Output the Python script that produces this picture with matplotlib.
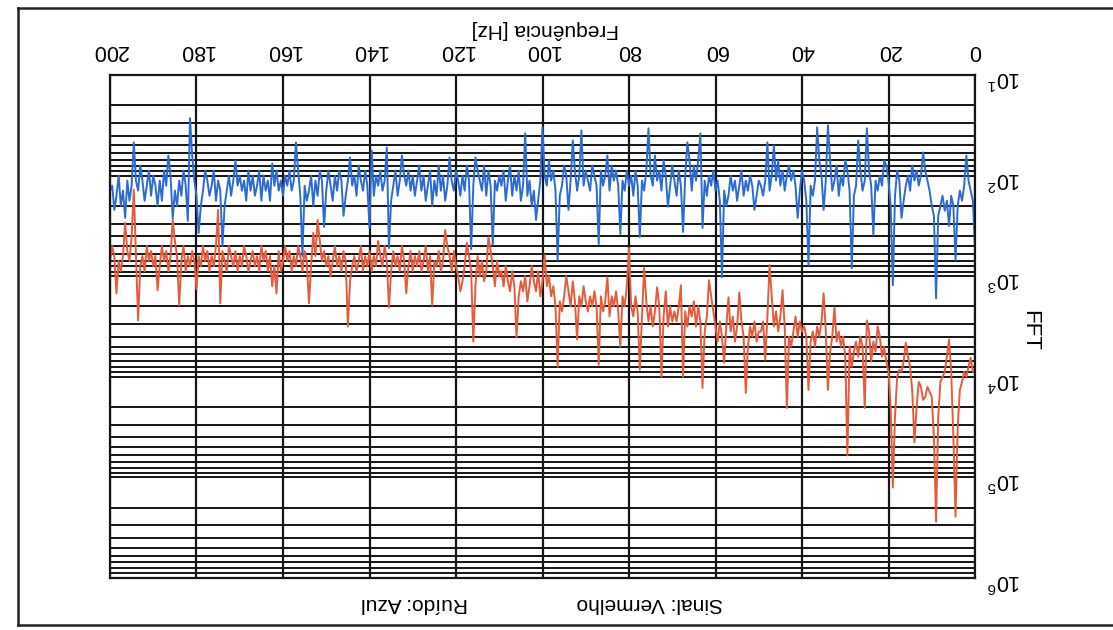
import matplotlib
matplotlib.use("Agg")
import matplotlib.pyplot as plt
import numpy as np
from matplotlib.lines import Line2D
from matplotlib.ticker import NullFormatter

plt.rcParams['font.family'] = ['Liberation Sans', 'DejaVu Sans']

# espectro, passo de 0.5 Hz (valores em log10 da FFT)
ruido_log = [
    2.70, 2.25, 2.15, 2.05, 1.80, 2.10, 2.25, 2.15, 2.30, 2.84, 2.30, 2.20, 2.50, 2.25, 2.35, 2.20, 2.30, 2.40, 3.22, 2.40,
    2.30, 2.15, 2.05, 1.95, 1.77, 2.00, 2.10, 1.95, 2.05, 1.90, 2.15, 2.00, 2.10, 2.25, 2.42, 2.05, 1.95, 2.20, 3.09, 2.30,
    2.05, 1.90, 1.85, 2.10, 2.00, 2.15, 2.05, 2.59, 2.10, 1.95, 1.53, 2.05, 2.15, 1.95, 1.65, 2.10, 2.20, 2.92, 2.15, 1.95,
    1.85, 2.10, 2.00, 2.20, 1.90, 2.05, 2.15, 1.85, 1.50, 2.05, 2.34, 2.00, 1.85, 1.52, 2.05, 2.20, 2.10, 2.89, 2.25, 2.05,
    1.95, 2.15, 2.42, 2.10, 1.95, 2.05, 1.90, 2.00, 2.15, 1.95, 2.10, 1.85, 2.05, 1.70, 2.00, 2.15, 1.67, 2.05, 2.20, 2.10,
    2.05, 2.20, 2.34, 2.10, 2.00, 2.15, 2.05, 2.20, 1.95, 2.10, 2.25, 2.05, 2.15, 2.00, 2.20, 2.30, 2.15, 3.01, 2.25, 2.05,
    2.15, 1.95, 2.10, 2.00, 2.20, 2.05, 2.52, 1.58, 1.85, 2.05, 1.90, 2.15, 1.85, 1.67, 2.00, 2.56, 2.10, 1.95, 2.20, 2.05,
    1.90, 2.10, 2.31, 2.00, 1.85, 2.15, 1.95, 2.05, 1.80, 2.10, 2.00, 1.53, 1.95, 2.15, 2.05, 2.61, 2.10, 1.95, 2.20, 2.00,
    2.10, 1.95, 2.15, 2.05, 2.58, 2.10, 1.95, 2.05, 1.90, 2.15, 1.80, 2.00, 2.10, 1.95, 2.68, 2.10, 2.00, 1.90, 2.15, 2.05,
    1.95, 2.10, 1.55, 2.00, 2.15, 1.95, 1.65, 2.05, 2.34, 2.00, 1.90, 2.10, 2.20, 2.84, 2.15, 1.95, 2.05, 1.85, 2.10, 2.00,
    1.52, 2.05, 2.25, 2.44, 2.15, 2.30, 2.05, 2.20, 1.58, 2.10, 2.25, 1.95, 2.15, 2.00, 2.20, 1.90, 2.05, 2.25, 1.95, 2.10,
    2.00, 2.15, 2.05, 2.69, 2.10, 1.95, 2.20, 1.90, 2.15, 2.05, 1.95, 1.82, 2.10, 2.73, 2.05, 1.90, 2.15, 2.00, 2.20, 2.05,
    1.95, 2.15, 2.05, 1.82, 2.10, 2.25, 2.00, 2.15, 1.90, 2.20, 2.05, 2.30, 1.95, 2.10, 2.25, 2.00, 2.15, 1.90, 2.05, 2.20,
    2.00, 2.15, 1.95, 2.10, 2.00, 1.80, 2.05, 2.20, 1.95, 2.10, 2.25, 2.72, 1.72, 2.05, 2.15, 1.95, 2.10, 2.00, 2.20, 1.75,
    2.52, 2.10, 1.95, 2.15, 2.05, 1.90, 2.20, 2.00, 2.10, 1.82, 2.05, 2.20, 2.40, 2.05, 1.95, 2.15, 2.00, 2.25, 2.10, 1.95,
    2.15, 2.51, 2.05, 1.95, 2.20, 2.05, 2.30, 2.00, 2.15, 2.25, 2.10, 2.80, 2.20, 1.95, 1.67, 2.05, 2.15, 1.95, 2.10, 2.00,
    2.20, 2.05, 2.15, 1.95, 2.10, 1.88, 2.25, 2.05, 2.15, 2.00, 2.25, 1.95, 2.10, 2.20, 2.00, 2.15, 1.95, 2.25, 2.05, 2.15,
    2.00, 2.10, 1.85, 2.05, 2.20, 2.00, 2.15, 2.30, 2.70, 2.15, 2.05, 2.25, 1.95, 2.10, 2.20, 2.05, 1.95, 2.15, 2.30, 2.57,
    2.20, 2.05, 1.80, 1.43, 2.45, 2.10, 1.95, 2.20, 2.05, 2.30, 2.15, 2.43, 2.00, 1.80, 2.10, 1.95, 2.25, 2.05, 2.30, 2.10,
    2.00, 2.20, 1.95, 2.10, 2.25, 2.05, 1.90, 2.15, 2.05, 1.67, 2.10, 2.25, 2.05, 2.42, 2.15, 2.30, 2.00, 2.20, 2.34, 2.10,
    2.15,
]

sinal_log = [
    3.93, 3.95, 3.81, 3.90, 4.00, 3.95, 4.05, 4.13, 4.50, 5.39, 4.60, 3.95, 3.63, 3.80, 3.95, 4.00, 4.05, 4.40, 5.44, 4.60,
    4.20, 4.15, 4.10, 4.20, 4.23, 4.10, 4.05, 4.30, 4.65, 4.15, 3.90, 3.80, 3.66, 3.85, 3.95, 3.93, 4.00, 4.40, 5.10, 4.30,
    3.95, 3.85, 3.70, 3.80, 3.60, 3.50, 3.75, 3.65, 3.85, 3.55, 3.44, 4.31, 3.70, 3.60, 3.80, 3.65, 3.75, 3.90, 3.70, 4.78,
    3.80, 3.60, 3.70, 3.55, 3.65, 3.31, 3.60, 3.75, 4.13, 3.55, 3.17, 3.45, 3.60, 3.50, 3.70, 3.55, 3.65, 4.13, 3.60, 3.50,
    3.55, 3.45, 3.60, 3.40, 3.55, 3.70, 3.60, 4.31, 3.50, 3.14, 3.40, 3.55, 3.35, 3.50, 3.20, 2.89, 3.40, 3.83, 3.45, 3.55,
    3.55, 3.65, 3.45, 3.60, 3.50, 3.70, 4.16, 3.60, 3.45, 3.16, 3.50, 3.65, 3.40, 3.55, 3.21, 3.50, 3.86, 3.60, 3.45, 3.65,
    3.50, 3.35, 3.20, 3.04, 3.40, 3.55, 4.11, 3.45, 3.30, 3.50, 3.25, 3.40, 3.30, 3.50, 3.35, 4.00, 3.09, 3.30, 3.45, 3.35,
    3.45, 3.30, 3.50, 3.15, 3.40, 4.00, 3.30, 3.11, 3.35, 3.50, 3.30, 3.45, 3.25, 2.92, 3.40, 3.93, 3.35, 3.20, 3.40, 3.30,
    2.72, 3.10, 3.30, 3.20, 3.70, 3.35, 3.15, 3.30, 3.20, 3.40, 3.01, 3.25, 3.35, 3.20, 3.88, 3.30, 3.15, 3.30, 3.20, 3.35,
    3.25, 3.10, 3.30, 3.20, 3.63, 3.25, 3.05, 3.30, 3.15, 3.00, 3.20, 3.35, 3.25, 3.90, 3.30, 3.10, 3.20, 3.00, 3.10, 2.79,
    3.05, 3.20, 2.95, 3.15, 3.05, 2.90, 3.10, 3.25, 3.00, 3.15, 3.05, 3.20, 3.61, 3.10, 2.95, 3.15, 3.05, 2.90, 3.10, 2.95,
    3.00, 2.85, 3.10, 2.90, 2.75, 2.61, 2.95, 3.05, 2.85, 3.00, 2.80, 3.10, 3.65, 2.95, 2.80, 2.67, 2.90, 3.05, 3.15, 3.00,
    2.90, 2.75, 2.95, 2.80, 2.70, 2.54, 2.85, 2.95, 2.75, 2.90, 2.85, 3.29, 2.80, 2.95, 2.70, 2.85, 2.95, 2.75, 2.90, 2.80,
    2.95, 2.75, 2.90, 3.17, 2.85, 2.70, 2.95, 2.80, 2.90, 2.75, 2.95, 3.31, 2.85, 2.70, 2.90, 2.80, 2.65, 2.90, 2.80, 2.95,
    2.75, 2.90, 2.80, 2.95, 2.70, 2.85, 2.95, 2.80, 2.90, 3.05, 3.50, 2.85, 2.75, 2.95, 2.80, 2.90, 2.70, 2.85, 3.00, 2.80,
    2.90, 2.75, 2.85, 2.65, 2.44, 2.80, 2.57, 2.90, 3.27, 2.85, 2.75, 2.95, 2.80, 2.70, 2.90, 2.80, 2.95, 2.75, 2.85, 2.70,
    2.85, 2.95, 2.75, 3.17, 2.90, 3.10, 2.80, 2.95, 2.75, 2.85, 2.70, 2.95, 2.80, 2.90, 2.75, 2.85, 2.95, 2.80, 2.70, 2.90,
    2.80, 2.95, 2.75, 2.90, 2.80, 2.70, 2.95, 2.85, 2.75, 3.27, 2.34, 2.70, 2.90, 2.80, 2.95, 2.75, 2.85, 2.70, 2.90, 2.80,
    3.13, 2.85, 2.75, 2.90, 2.80, 2.95, 2.70, 2.85, 3.29, 2.80, 2.65, 2.44, 2.80, 2.95, 2.75, 2.85, 2.70, 2.90, 3.14, 2.80,
    2.90, 2.75, 2.85, 2.70, 2.95, 2.80, 2.90, 3.44, 2.80, 2.14, 2.60, 2.85, 2.75, 2.47, 2.80, 2.95, 2.85, 3.17, 2.80, 2.70,
    2.85,
]

freq = np.arange(len(ruido_log)) * 0.5
ruido = 10 ** np.array(ruido_log)
sinal = 10 ** np.array(sinal_log)

W, H = 1113, 630
fig = plt.figure(figsize=(W / 100, H / 100), dpi=100)
ax = fig.add_axes([110 / W, 52 / H, 865 / W, 503 / H])

ax.plot(freq, ruido, color='#2b6bd3', lw=1.4)
ax.plot(freq, sinal, color='#e65b3b', lw=1.4)

# a folha foi digitalizada de cabeça para baixo
ax.set_yscale('log')
ax.set_ylim(1e6, 1e1)
ax.set_xlim(200, 0)
ax.set_xticks(np.arange(0, 201, 20))
ax.yaxis.set_minor_formatter(NullFormatter())

ax.grid(True, which='both', axis='y', color='#151515', lw=1.4)
ax.grid(True, which='major', axis='x', color='#151515', lw=1.6)
for s in ax.spines.values():
    s.set_color('#151515')
    s.set_linewidth(1.6)

ax.xaxis.tick_top()
ax.yaxis.tick_right()
ax.tick_params(which='both', length=0, labelsize=15.5, labelrotation=180)
ax.tick_params(axis='x', pad=10)
ax.tick_params(axis='y', pad=9)

ax.set_xlabel('Frequência [Hz]', fontsize=15, rotation=180)
ax.xaxis.set_label_position('top')
ax.xaxis.set_label_coords(0.503, 1.08)
ax.set_ylabel('FFT', fontsize=16, rotation=270)
ax.yaxis.set_label_position('right')
ax.yaxis.set_label_coords(1.075, 0.493)

fig.text(650 / W, 1 - 603 / H, 'Sinal: Vermelho', fontsize=15, rotation=180, ha='center', va='center')
fig.text(415 / W, 1 - 603 / H, 'Ruído: Azul', fontsize=15, rotation=180, ha='center', va='center')

# bordas da digitalização
for xs, ys in [((18, W), (8, 8)), ((18, 18), (8, 625)), ((18, W), (625, 625))]:
    fig.add_artist(Line2D([x / W for x in xs], [1 - y / H for y in ys], color='#222222', lw=1.8))

fig.savefig('out.png', dpi=100)
